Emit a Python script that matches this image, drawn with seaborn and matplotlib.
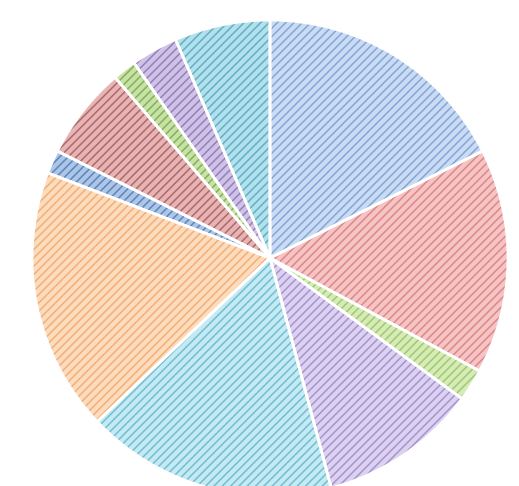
import numpy as np
import seaborn as sns
from matplotlib import pyplot as plt

# slice shares (percent), clockwise from 12 o'clock
shares = [17.6, 15.3, 2.2, 10.8, 17.1, 17.9, 1.6, 6.3, 1.6, 3.2, 6.5]
fills = ['#cadcf4', '#f6c4c4', '#d6ecb4', '#dcd2f0', '#c4eaf4', '#fcdcbc',
         '#aec6e6', '#e6b4b4', '#c8e2a4', '#d0c2e6', '#b2e0ec']
hatches = ['#86a6d8', '#dc8888', '#a0c878', '#a494d0', '#74bed2', '#f2ae78',
           '#5c86c0', '#b06868', '#82b062', '#9282bc', '#62b0c4']

def draw_pie():
    sns.set_style("white")
    plt.rcParams['hatch.linewidth'] = 1.1
    fig = plt.figure(figsize=(5.19, 4.86), dpi=100)
    ax = fig.add_axes([32 / 519, -10 / 486, 476 / 519, 476 / 486])

    # hatched fill
    wedges, _ = ax.pie(shares, colors=fills, startangle=90, counterclock=False,
                       wedgeprops={"linewidth": 0})
    for w, hc in zip(wedges, hatches):
        w.set_edgecolor(hc)
        w.set_hatch('////')
        w.set_linewidth(0)

    # white separators on top
    ax.pie(shares, colors=['none'] * len(shares), startangle=90, counterclock=False,
           wedgeprops={"linewidth": 2, "edgecolor": "white", "facecolor": "none"})

    ax.set_xlim(-1, 1)
    ax.set_ylim(-1, 1)
    ax.set_aspect('auto')
    ax.axis('off')
    plt.savefig('out.png', dpi=100)

if __name__ == "__main__":
    draw_pie()
